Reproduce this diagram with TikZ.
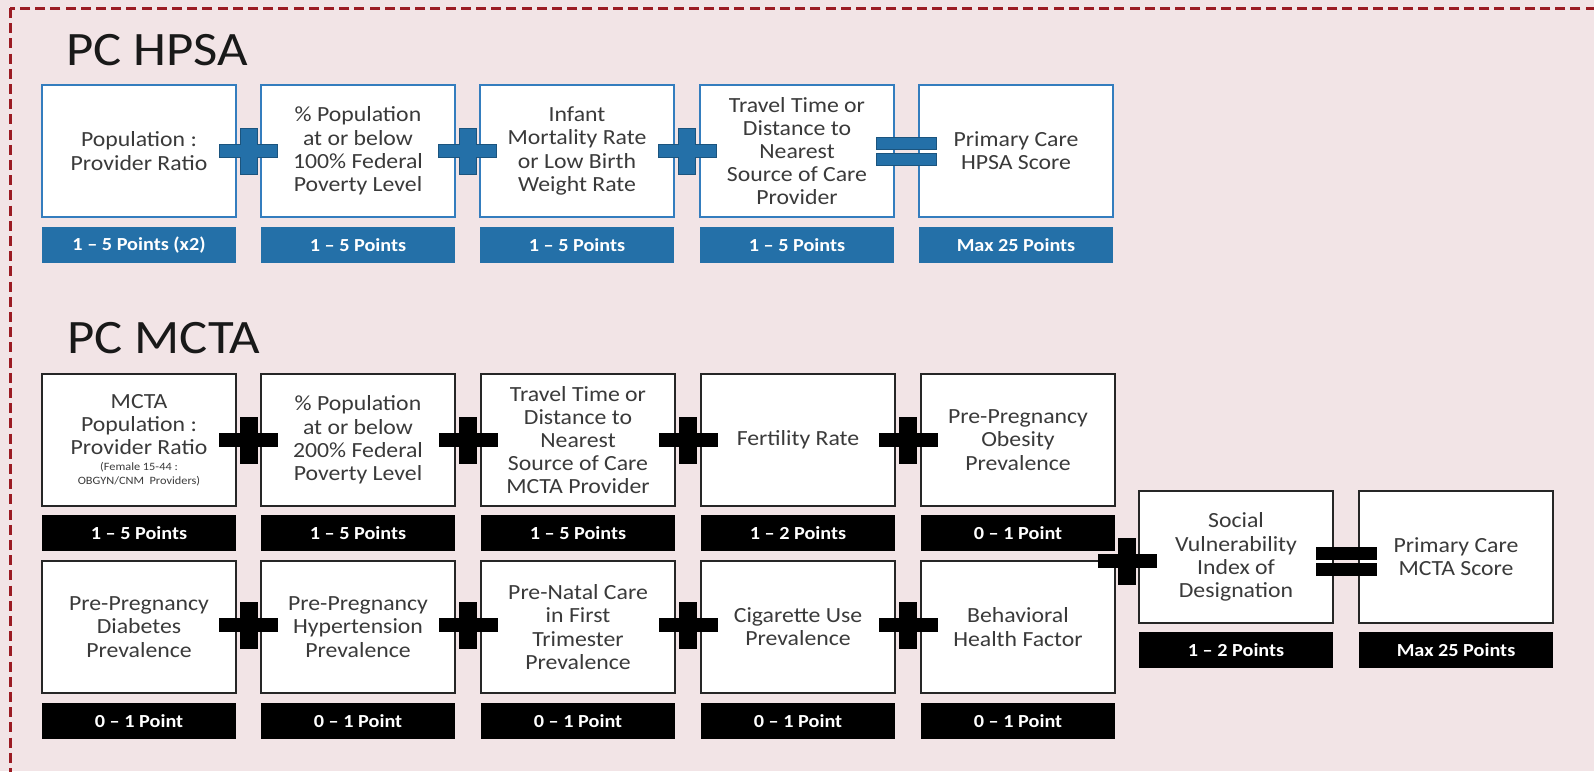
\documentclass[tikz,border=0pt]{standalone}
\usepackage{fontspec}
\setmainfont{Carlito}[FakeStretch=1.1]
\usetikzlibrary{calc}
\definecolor{bg}{RGB}{242,228,230}
\definecolor{dred}{RGB}{155,27,35}
\definecolor{hblue}{RGB}{36,112,168}
\definecolor{hborder}{RGB}{52,125,190}
\definecolor{txt}{RGB}{58,58,58}
\tikzset{
  hbox/.style={draw=hborder, line width=1.1pt, fill=white, minimum width=97pt, minimum height=66pt,
    inner sep=0pt, align=center, text=txt, font=\fontsize{10.8}{11.6}\selectfont},
  mbox/.style={hbox, draw=black!85, line width=1.4pt},
  hbar/.style={fill=hblue, minimum width=97pt, minimum height=18pt, inner sep=0pt,
    text=white, font=\bfseries\fontsize{9.2}{10}\selectfont},
  mbar/.style={hbar, fill=black},
  ttl/.style={anchor=base west, inner sep=0pt, text=black!90, font=\fontsize{24}{28}\selectfont},
  pics/plussign/.style={code={
    \filldraw[fill=#1, draw=#1!75!black, line width=0.3pt]
      (-29,-6.5) -- (-8.5,-6.5) -- (-8.5,-23) -- (8.5,-23) -- (8.5,-6.5) -- (29,-6.5) --
      (29,6.5) -- (8.5,6.5) -- (8.5,23) -- (-8.5,23) -- (-8.5,6.5) -- (-29,6.5) -- cycle;}},
  pics/eqsign/.style={code={
    \filldraw[fill=#1, draw=#1!75!black, line width=0.3pt] (-30,-14) rectangle (30,-2);
    \filldraw[fill=#1, draw=#1!75!black, line width=0.3pt] (-30,2) rectangle (30,14);}}
}
\begin{document}
\begin{tikzpicture}[x=0.5pt, y=-0.5pt]
\useasboundingbox (0,0) rectangle (1594,771);
\begin{scope}
\clip (0,0) rectangle (1594,771);
\fill[bg] (0,0) rectangle (1594,771);
\draw[dred, line width=1.5pt, dash pattern=on 5pt off 2.6pt] (10,8) rectangle (1640,820);
\end{scope}

% titles
\node[ttl] (t1) at (66,65) {PC HPSA};
\node[ttl] (t2) at (67,353) {PC MCTA};

% HPSA row
\node[hbox] (h1) at (139,151) {Population :\\Provider Ratio};
\node[hbox] (h2) at (358,151) {\% Population\\at or below\\100\% Federal\\Poverty Level};
\node[hbox] (h3) at (577,151) {Infant\\Mortality Rate\\or Low Birth\\Weight Rate};
\node[hbox] (h4) at (797,151) {Travel Time or\\Distance to\\Nearest\\Source of Care\\Provider};
\node[hbox] (h5) at (1016,151) {Primary Care\\HPSA Score};
\node[hbar] (hb1) at (139,245) {1 – 5 Points (x2)};
\node[hbar] (hb2) at (358,245) {1 – 5 Points};
\node[hbar] (hb3) at (577,245) {1 – 5 Points};
\node[hbar] (hb4) at (797,245) {1 – 5 Points};
\node[hbar] (hb5) at (1016,245) {Max 25 Points};
\pic at ($(h1.east)!.5!(h2.west)$) {plussign=hblue};
\pic at ($(h2.east)!.5!(h3.west)$) {plussign=hblue};
\pic at ($(h3.east)!.5!(h4.west)$) {plussign=hblue};
\pic at ($(h4.east)!.5!(h5.west)$) {eqsign=hblue};

% MCTA row 1
\node[mbox] (m1) at (139,440) {MCTA\\Population :\\Provider Ratio\\[-3.5pt]{\fontsize{5.6}{6}\selectfont (Female 15-44 :}\\[-5pt]{\fontsize{5.6}{6}\selectfont OBGYN/CNM\ \ Providers)}};
\node[mbox] (m2) at (358,440) {\% Population\\at or below\\200\% Federal\\Poverty Level};
\node[mbox] (m3) at (578,440) {Travel Time or\\Distance to\\Nearest\\Source of Care\\MCTA Provider};
\node[mbox] (m4) at (798,440) {Fertility Rate};
\node[mbox] (m5) at (1018,440) {Pre-Pregnancy\\Obesity\\Prevalence};
\node[mbar] (mb1) at (139,533) {1 – 5 Points};
\node[mbar] (mb2) at (358,533) {1 – 5 Points};
\node[mbar] (mb3) at (578,533) {1 – 5 Points};
\node[mbar] (mb4) at (798,533) {1 – 2 Points};
\node[mbar] (mb5) at (1018,533) {0 – 1 Point};
\pic at ($(m1.east)!.5!(m2.west)$) {plussign=black};
\pic at ($(m2.east)!.5!(m3.west)$) {plussign=black};
\pic at ($(m3.east)!.5!(m4.west)$) {plussign=black};
\pic at ($(m4.east)!.5!(m5.west)$) {plussign=black};

% MCTA row 2
\node[mbox] (n1) at (139,627) {Pre-Pregnancy\\Diabetes\\Prevalence};
\node[mbox] (n2) at (358,627) {Pre-Pregnancy\\Hypertension\\Prevalence};
\node[mbox] (n3) at (578,627) {Pre-Natal Care\\in First\\Trimester\\Prevalence};
\node[mbox] (n4) at (798,627) {Cigarette Use\\Prevalence};
\node[mbox] (n5) at (1018,627) {Behavioral\\Health Factor};
\node[mbar] (nb1) at (139,721) {0 – 1 Point};
\node[mbar] (nb2) at (358,721) {0 – 1 Point};
\node[mbar] (nb3) at (578,721) {0 – 1 Point};
\node[mbar] (nb4) at (798,721) {0 – 1 Point};
\node[mbar] (nb5) at (1018,721) {0 – 1 Point};
\pic at ($(n1.east)!.5!(n2.west)+(0,-2)$) {plussign=black};
\pic at ($(n2.east)!.5!(n3.west)+(0,-2)$) {plussign=black};
\pic at ($(n3.east)!.5!(n4.west)+(0,-2)$) {plussign=black};
\pic at ($(n4.east)!.5!(n5.west)+(0,-2)$) {plussign=black};

% final column
\node[mbox] (s) at (1236,557) {Social\\Vulnerability\\Index of\\Designation};
\node[mbox] (f) at (1456,557) {Primary Care\\MCTA Score};
\node[mbar] (sb) at (1236,650) {1 – 2 Points};
\node[mbar] (fb) at (1456,650) {Max 25 Points};
\coordinate (gapx) at ($(m5.east)!.5!(s.west)$);
\pic at ($(gapx |- s.center)+(0,4)$) {plussign=black};
\pic at ($(s.east)!.5!(f.west)+(0,4)$) {eqsign=black};
\end{tikzpicture}
\end{document}
